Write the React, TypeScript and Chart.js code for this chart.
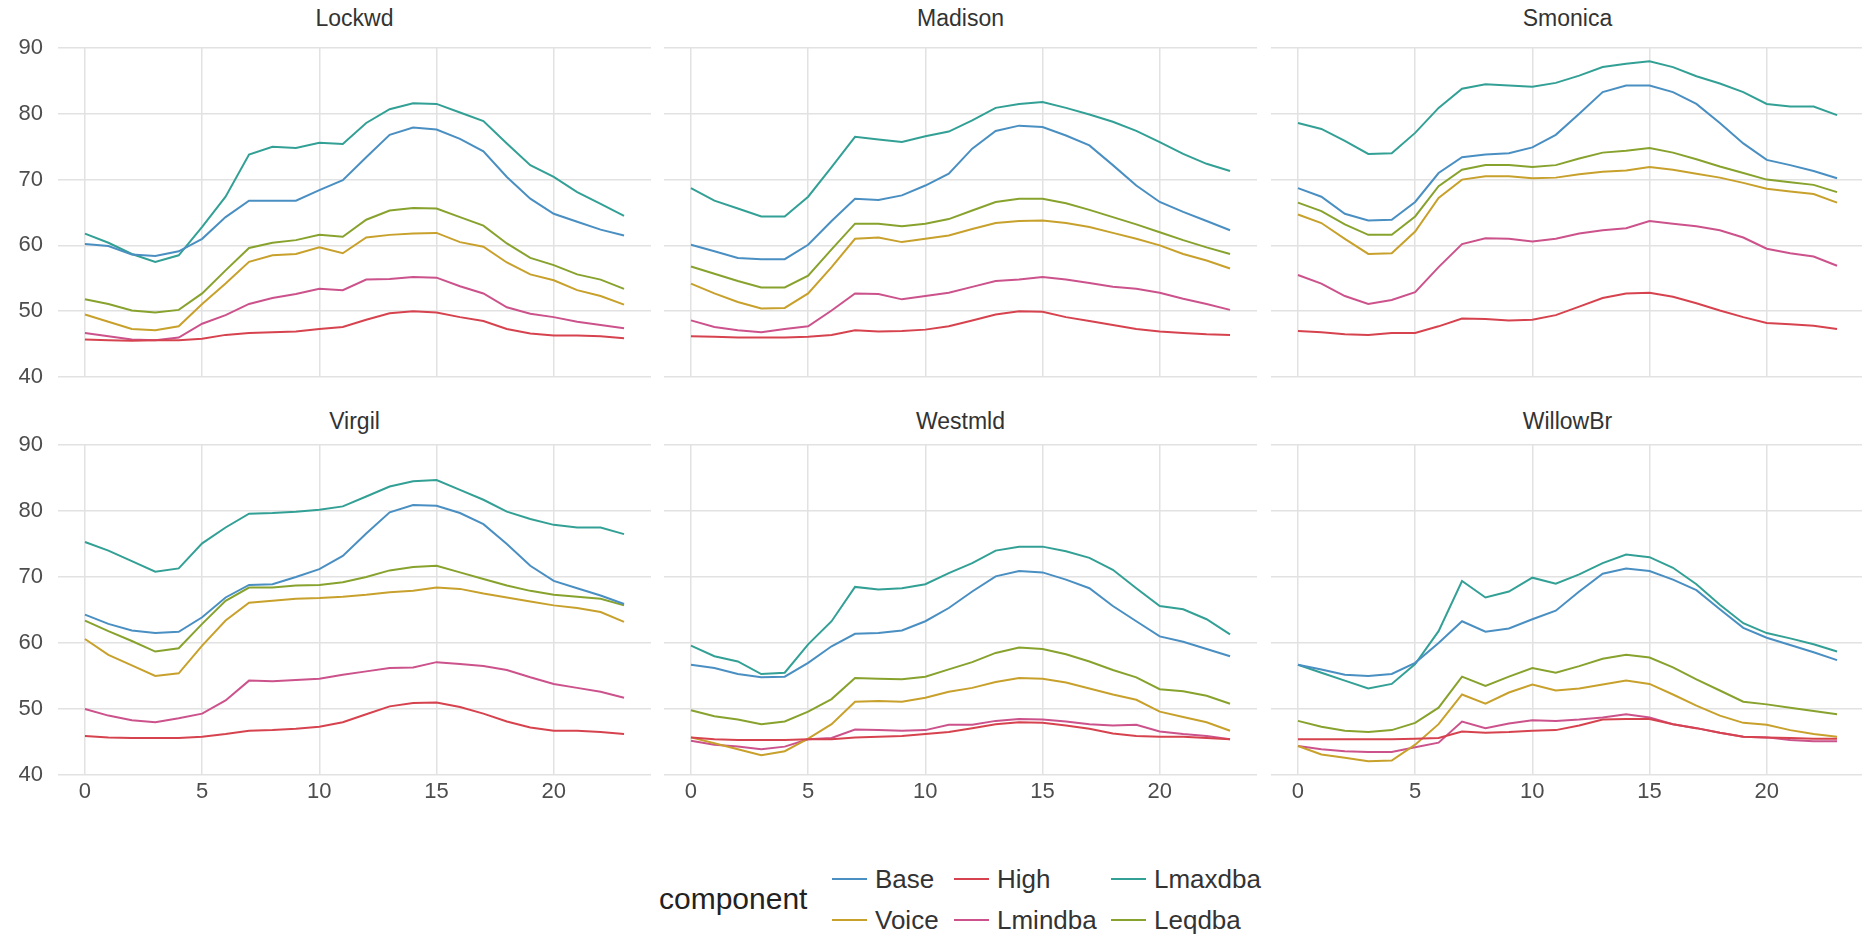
import React, { useEffect, useRef } from "react";
import { Chart, registerables } from "chart.js";

Chart.register(...registerables);

// ---------- data ----------
const HOURS = [0, 1, 2, 3, 4, 5, 6, 7, 8, 9, 10, 11, 12, 13, 14, 15, 16, 17, 18, 19, 20, 21, 22, 23];
const X_TICKS = [0, 5, 10, 15, 20];
const Y_TICKS = [40, 50, 60, 70, 80, 90];
const SITES = ["Lockwd", "Madison", "Smonica", "Virgil", "Westmld", "WillowBr"];
const COMPONENTS = ["Base", "High", "Lmaxdba", "Voice", "Lmindba", "Leqdba"];

const lockwdBase = [60.2, 59.9, 58.6, 58.4, 59.1, 61.0, 64.3, 66.8, 66.8, 66.8, 68.4, 69.9, 73.4, 76.8, 77.9, 77.6, 76.2, 74.3, 70.4, 67.1, 64.8, 63.6, 62.4, 61.5];
const lockwdHigh = [45.7, 45.6, 45.5, 45.6, 45.6, 45.8, 46.4, 46.7, 46.8, 46.9, 47.3, 47.6, 48.7, 49.7, 50.0, 49.8, 49.1, 48.5, 47.3, 46.6, 46.3, 46.3, 46.2, 45.9];
const lockwdLmax = [61.8, 60.4, 58.7, 57.5, 58.5, 62.8, 67.4, 73.8, 75.0, 74.8, 75.6, 75.4, 78.6, 80.7, 81.6, 81.5, 80.2, 78.9, 75.5, 72.2, 70.4, 68.1, 66.3, 64.5];
const lockwdVoice = [49.5, 48.4, 47.3, 47.1, 47.7, 51.1, 54.2, 57.5, 58.5, 58.7, 59.7, 58.8, 61.2, 61.6, 61.8, 61.9, 60.5, 59.8, 57.4, 55.6, 54.7, 53.2, 52.3, 51.0];
const lockwdLmin = [46.7, 46.2, 45.7, 45.6, 46.0, 48.1, 49.4, 51.1, 52.0, 52.6, 53.4, 53.2, 54.8, 54.9, 55.2, 55.1, 53.8, 52.7, 50.6, 49.6, 49.1, 48.4, 47.9, 47.4];
const lockwdLeq = [51.8, 51.1, 50.1, 49.8, 50.2, 52.7, 56.2, 59.6, 60.4, 60.8, 61.6, 61.3, 63.9, 65.3, 65.7, 65.6, 64.3, 63.0, 60.3, 58.1, 57.0, 55.6, 54.8, 53.4];

const madisonBase = [60.1, 59.1, 58.1, 57.9, 57.9, 60.1, 63.7, 67.1, 66.9, 67.6, 69.1, 70.9, 74.7, 77.4, 78.2, 78.0, 76.7, 75.2, 72.2, 69.1, 66.6, 65.1, 63.7, 62.3];
const madisonHigh = [46.2, 46.1, 46.0, 46.0, 46.0, 46.1, 46.4, 47.1, 46.9, 47.0, 47.2, 47.7, 48.6, 49.5, 50.0, 49.9, 49.1, 48.5, 47.9, 47.3, 46.9, 46.7, 46.5, 46.4];
const madisonLmax = [68.7, 66.8, 65.6, 64.4, 64.4, 67.4, 71.9, 76.5, 76.1, 75.7, 76.6, 77.3, 79.0, 80.9, 81.5, 81.8, 80.9, 79.9, 78.8, 77.4, 75.7, 73.9, 72.4, 71.3];
const madisonVoice = [54.2, 52.7, 51.4, 50.4, 50.5, 52.7, 56.7, 61.0, 61.2, 60.5, 61.0, 61.5, 62.5, 63.4, 63.7, 63.8, 63.4, 62.8, 61.9, 61.0, 60.0, 58.7, 57.7, 56.5];
const madisonLmin = [48.6, 47.6, 47.1, 46.8, 47.3, 47.7, 50.1, 52.7, 52.6, 51.8, 52.3, 52.8, 53.7, 54.6, 54.8, 55.2, 54.8, 54.3, 53.7, 53.4, 52.8, 51.9, 51.1, 50.2];
const madisonLeq = [56.8, 55.7, 54.6, 53.6, 53.6, 55.4, 59.4, 63.3, 63.3, 62.9, 63.3, 64.0, 65.3, 66.6, 67.1, 67.1, 66.4, 65.4, 64.3, 63.2, 62.0, 60.8, 59.7, 58.7];

const smonicaBase = [68.7, 67.4, 64.8, 63.8, 63.9, 66.6, 71.0, 73.4, 73.8, 74.0, 74.9, 76.8, 80.0, 83.3, 84.3, 84.3, 83.3, 81.5, 78.6, 75.5, 73.0, 72.2, 71.3, 70.2];
const smonicaHigh = [47.0, 46.8, 46.5, 46.4, 46.7, 46.7, 47.7, 48.9, 48.8, 48.6, 48.7, 49.4, 50.7, 52.0, 52.7, 52.8, 52.2, 51.2, 50.1, 49.1, 48.2, 48.0, 47.8, 47.3];
const smonicaLmax = [78.6, 77.7, 75.9, 73.9, 74.0, 77.1, 80.9, 83.8, 84.5, 84.3, 84.1, 84.7, 85.8, 87.1, 87.6, 88.0, 87.1, 85.7, 84.6, 83.3, 81.5, 81.1, 81.1, 79.8];
const smonicaVoice = [64.7, 63.4, 61.0, 58.7, 58.8, 62.1, 67.2, 70.0, 70.5, 70.5, 70.2, 70.3, 70.8, 71.2, 71.4, 71.9, 71.5, 70.9, 70.3, 69.5, 68.6, 68.2, 67.8, 66.5];
const smonicaLmin = [55.5, 54.2, 52.3, 51.1, 51.7, 52.9, 56.7, 60.2, 61.1, 61.0, 60.6, 61.0, 61.8, 62.3, 62.6, 63.7, 63.3, 62.9, 62.3, 61.2, 59.5, 58.8, 58.3, 56.9];
const smonicaLeq = [66.5, 65.2, 63.2, 61.6, 61.6, 64.4, 69.0, 71.5, 72.2, 72.2, 71.9, 72.2, 73.2, 74.1, 74.4, 74.8, 74.1, 73.1, 72.0, 71.0, 70.0, 69.6, 69.2, 68.1];

const virgilBase = [64.3, 62.9, 61.9, 61.5, 61.7, 63.9, 66.9, 68.8, 68.9, 70.0, 71.2, 73.2, 76.6, 79.8, 80.9, 80.8, 79.7, 78.0, 75.0, 71.7, 69.4, 68.3, 67.2, 65.9];
const virgilHigh = [45.9, 45.7, 45.6, 45.6, 45.6, 45.8, 46.2, 46.7, 46.8, 47.0, 47.3, 48.0, 49.2, 50.4, 50.9, 51.0, 50.3, 49.3, 48.1, 47.2, 46.7, 46.7, 46.5, 46.2];
const virgilLmax = [75.3, 74.0, 72.4, 70.8, 71.3, 75.1, 77.5, 79.6, 79.7, 79.9, 80.2, 80.7, 82.2, 83.7, 84.5, 84.7, 83.2, 81.7, 79.9, 78.8, 77.9, 77.5, 77.5, 76.5];
const virgilVoice = [60.6, 58.2, 56.6, 55.0, 55.4, 59.6, 63.4, 66.1, 66.4, 66.7, 66.8, 67.0, 67.3, 67.7, 67.9, 68.4, 68.2, 67.5, 66.9, 66.3, 65.7, 65.3, 64.7, 63.2];
const virgilLmin = [50.0, 49.0, 48.3, 48.0, 48.6, 49.3, 51.3, 54.3, 54.2, 54.4, 54.6, 55.2, 55.7, 56.2, 56.3, 57.1, 56.8, 56.5, 55.9, 54.8, 53.8, 53.2, 52.6, 51.7];
const virgilLeq = [63.4, 61.8, 60.3, 58.7, 59.2, 62.9, 66.4, 68.4, 68.4, 68.7, 68.8, 69.2, 70.0, 71.0, 71.5, 71.7, 70.7, 69.7, 68.7, 67.9, 67.3, 67.0, 66.7, 65.7];

const westmldBase = [56.7, 56.2, 55.3, 54.8, 54.9, 57.0, 59.5, 61.4, 61.5, 61.9, 63.3, 65.3, 67.8, 70.1, 70.9, 70.7, 69.6, 68.3, 65.6, 63.3, 61.0, 60.2, 59.1, 58.0];
const westmldHigh = [45.7, 45.4, 45.3, 45.3, 45.3, 45.4, 45.4, 45.7, 45.8, 45.9, 46.2, 46.5, 47.1, 47.7, 48.0, 47.9, 47.5, 47.0, 46.3, 45.9, 45.8, 45.8, 45.6, 45.4];
const westmldLmax = [59.6, 58.0, 57.2, 55.3, 55.5, 59.8, 63.3, 68.5, 68.1, 68.3, 68.9, 70.6, 72.1, 74.0, 74.6, 74.6, 73.9, 72.9, 71.1, 68.3, 65.6, 65.1, 63.6, 61.3];
const westmldVoice = [45.7, 44.8, 43.9, 43.0, 43.6, 45.5, 47.7, 51.1, 51.2, 51.1, 51.7, 52.6, 53.2, 54.1, 54.7, 54.6, 54.0, 53.1, 52.2, 51.4, 49.6, 48.8, 48.0, 46.7];
const westmldLmin = [45.2, 44.6, 44.3, 43.9, 44.3, 45.4, 45.6, 46.9, 46.8, 46.7, 46.8, 47.6, 47.6, 48.2, 48.5, 48.4, 48.1, 47.7, 47.5, 47.6, 46.6, 46.2, 45.9, 45.4];
const westmldLeq = [49.8, 48.9, 48.4, 47.7, 48.1, 49.6, 51.5, 54.7, 54.6, 54.5, 54.9, 56.0, 57.1, 58.5, 59.3, 59.1, 58.3, 57.2, 55.9, 54.8, 53.0, 52.7, 52.0, 50.8];

const willowBase = [56.7, 56.0, 55.2, 55.0, 55.3, 57.0, 60.0, 63.3, 61.7, 62.2, 63.6, 64.9, 67.8, 70.5, 71.3, 70.9, 69.6, 68.0, 65.1, 62.3, 60.8, 59.7, 58.6, 57.4];
const willowHigh = [45.4, 45.4, 45.4, 45.4, 45.4, 45.5, 45.6, 46.6, 46.4, 46.5, 46.7, 46.8, 47.5, 48.4, 48.5, 48.5, 47.7, 47.1, 46.4, 45.8, 45.7, 45.6, 45.5, 45.5];
const willowLmax = [56.7, 55.5, 54.3, 53.1, 53.8, 56.8, 61.8, 69.4, 66.9, 67.8, 69.9, 69.0, 70.4, 72.1, 73.4, 73.0, 71.4, 68.9, 65.8, 63.0, 61.5, 60.7, 59.8, 58.7];
const willowVoice = [44.4, 43.1, 42.6, 42.1, 42.2, 44.6, 47.7, 52.2, 50.8, 52.5, 53.7, 52.8, 53.1, 53.7, 54.3, 53.8, 52.2, 50.5, 49.0, 47.9, 47.6, 46.8, 46.2, 45.8];
const willowLmin = [44.4, 43.9, 43.6, 43.5, 43.5, 44.2, 44.9, 48.1, 47.1, 47.8, 48.3, 48.2, 48.4, 48.7, 49.2, 48.7, 47.7, 47.1, 46.4, 45.8, 45.7, 45.3, 45.1, 45.1];
const willowLeq = [48.2, 47.3, 46.7, 46.5, 46.8, 47.9, 50.2, 54.9, 53.5, 54.9, 56.2, 55.5, 56.5, 57.6, 58.2, 57.8, 56.3, 54.5, 52.8, 51.1, 50.7, 50.2, 49.7, 49.2];

const SITE_SERIES: Record<string, Record<string, number[]>> = {
  Lockwd: { Base: lockwdBase, High: lockwdHigh, Lmaxdba: lockwdLmax, Voice: lockwdVoice, Lmindba: lockwdLmin, Leqdba: lockwdLeq },
  Madison: { Base: madisonBase, High: madisonHigh, Lmaxdba: madisonLmax, Voice: madisonVoice, Lmindba: madisonLmin, Leqdba: madisonLeq },
  Smonica: { Base: smonicaBase, High: smonicaHigh, Lmaxdba: smonicaLmax, Voice: smonicaVoice, Lmindba: smonicaLmin, Leqdba: smonicaLeq },
  Virgil: { Base: virgilBase, High: virgilHigh, Lmaxdba: virgilLmax, Voice: virgilVoice, Lmindba: virgilLmin, Leqdba: virgilLeq },
  Westmld: { Base: westmldBase, High: westmldHigh, Lmaxdba: westmldLmax, Voice: westmldVoice, Lmindba: westmldLmin, Leqdba: westmldLeq },
  WillowBr: { Base: willowBase, High: willowHigh, Lmaxdba: willowLmax, Voice: willowVoice, Lmindba: willowLmin, Leqdba: willowLeq },
};

// ---------- styles ----------
const COLORS: Record<string, string> = {
  Base: "#4a8fc2",
  High: "#d6434e",
  Lmaxdba: "#33a096",
  Voice: "#c8a12c",
  Lmindba: "#cc528c",
  Leqdba: "#88a22e",
};
const FONT = '"Liberation Sans", Arial, sans-serif';
const GRID = "#e2e2e2";
const COLS = [[58, 651], [664, 1257], [1271, 1864]];
const ROWS = [[48, 377], [445, 775]];
const TITLE_Y = [18, 421];
const Y_AXIS_W = 58;
const X_AXIS_H = 40;
const PAD = 18;

function Panel({ site, row, col }: { site: string; row: number; col: number }) {
  const ref = useRef<HTMLCanvasElement | null>(null);
  const showY = col === 0;
  const showX = row === 1;
  const [pl, pr] = COLS[col];
  const [pt, pb] = ROWS[row];
  const left = showY ? pl - Y_AXIS_W : pl;
  const top = pt - PAD;
  const width = pr - left;
  const height = pb - pt + PAD + (showX ? X_AXIS_H : PAD);

  useEffect(() => {
    const series = SITE_SERIES[site];
    const chart = new Chart(ref.current as HTMLCanvasElement, {
      type: "line",
      data: {
        datasets: COMPONENTS.map((c) => ({
          label: c,
          data: HOURS.map((h, i) => ({ x: h, y: series[c][i] })),
          borderColor: COLORS[c],
          backgroundColor: COLORS[c],
          borderWidth: 2,
          pointRadius: 0,
          tension: 0,
          fill: false,
        })),
      },
      options: {
        animation: false,
        responsive: false,
        maintainAspectRatio: false,
        events: [],
        layout: { padding: { top: PAD, right: 0, bottom: showX ? 0 : PAD, left: 0 } },
        plugins: { legend: { display: false }, tooltip: { enabled: false }, title: { display: false } },
        scales: {
          x: {
            type: "linear",
            min: -1.15,
            max: 24.15,
            afterBuildTicks: (s: any) => {
              s.ticks = X_TICKS.map((v) => ({ value: v }));
            },
            afterFit: (s: any) => {
              s.height = showX ? X_AXIS_H : 0;
              s.paddingLeft = 0;
              s.paddingRight = 0;
              s.paddingTop = 0;
              s.paddingBottom = 0;
            },
            grid: { color: GRID, lineWidth: 1.5, drawTicks: false, tickLength: 0 },
            border: { display: false },
            ticks: {
              display: showX,
              color: "#4d4d4d",
              font: { family: FONT, size: 22 },
              padding: 4,
              maxRotation: 0,
              autoSkip: false,
            },
          },
          y: {
            type: "linear",
            min: 40,
            max: 90,
            afterBuildTicks: (s: any) => {
              s.ticks = Y_TICKS.map((v) => ({ value: v }));
            },
            afterFit: (s: any) => {
              s.width = showY ? Y_AXIS_W : 0;
              s.paddingLeft = 0;
              s.paddingRight = 0;
              s.paddingTop = 0;
              s.paddingBottom = 0;
            },
            grid: { color: GRID, lineWidth: 1.5, drawTicks: false, tickLength: 0 },
            border: { display: false },
            ticks: {
              display: showY,
              color: "#4d4d4d",
              font: { family: FONT, size: 22 },
              padding: 15,
            },
          },
        },
      },
    } as any);
    return () => chart.destroy();
  }, [site, row, col]);

  return (
    <>
      <div
        style={{
          position: "absolute",
          left: pl,
          width: pr - pl,
          top: TITLE_Y[row] - 15,
          height: 30,
          lineHeight: "30px",
          textAlign: "center",
          fontFamily: FONT,
          fontSize: 23,
          color: "#333333",
        }}
      >
        {site}
      </div>
      <canvas
        ref={ref}
        width={width}
        height={height}
        style={{ position: "absolute", left, top, width, height }}
      />
    </>
  );
}

const LEGEND_ITEMS = [
  { name: "Base", kx: 832, ty: 879 },
  { name: "High", kx: 954, ty: 879 },
  { name: "Lmaxdba", kx: 1111, ty: 879 },
  { name: "Voice", kx: 832, ty: 920 },
  { name: "Lmindba", kx: 954, ty: 920 },
  { name: "Leqdba", kx: 1111, ty: 920 },
];

function Legend() {
  return (
    <>
      <div
        style={{
          position: "absolute",
          left: 659,
          top: 899 - 18,
          height: 36,
          lineHeight: "36px",
          fontFamily: FONT,
          fontSize: 30,
          color: "#222222",
          whiteSpace: "nowrap",
        }}
      >
        component
      </div>
      {LEGEND_ITEMS.map((it) => (
        <React.Fragment key={it.name}>
          <div
            style={{
              position: "absolute",
              left: it.kx,
              top: it.ty - 1,
              width: 35,
              height: 2,
              background: COLORS[it.name],
            }}
          />
          <div
            style={{
              position: "absolute",
              left: it.kx + 43,
              top: it.ty - 16,
              height: 32,
              lineHeight: "32px",
              fontFamily: FONT,
              fontSize: 26,
              color: "#333333",
              whiteSpace: "nowrap",
            }}
          >
            {it.name}
          </div>
        </React.Fragment>
      ))}
    </>
  );
}

export default function App() {
  return (
    <div
      style={{
        position: "fixed",
        left: 0,
        top: 0,
        width: 1862,
        height: 935,
        overflow: "hidden",
        background: "#ffffff",
      }}
    >
      {SITES.map((s, i) => (
        <Panel key={s} site={s} row={Math.floor(i / 3)} col={i % 3} />
      ))}
      <Legend />
    </div>
  );
}
